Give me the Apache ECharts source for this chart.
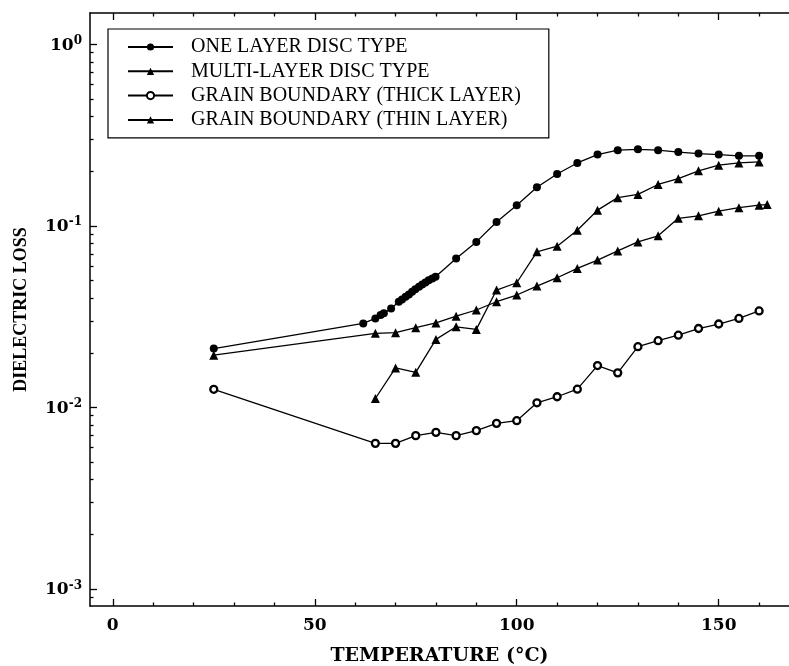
<!DOCTYPE html>
<html><head><meta charset="utf-8">
<script src="https://cdn.jsdelivr.net/npm/echarts@6/dist/echarts.min.js"></script>
<style>html,body{margin:0;padding:0;background:#fff}#c{width:789px;height:666px}</style>
</head><body><div id="c"></div>
<script>
// ---- data ----
const seriesNames = ['ONE LAYER DISC TYPE', 'MULTI-LAYER DISC TYPE', 'GRAIN BOUNDARY (THICK LAYER)', 'GRAIN BOUNDARY (THIN LAYER)'];

const oneLayerT = [25, 62, 65, 66.3, 67.1, 68.9, 70.8, 71.6, 72.5, 73.3, 74.1, 74.9, 75.8, 76.6, 77.4, 78.2, 79.1, 79.9, 85, 90, 95, 100, 105, 110, 115, 120, 125, 130, 135, 140, 145, 150, 155, 160];
const oneLayerV = [0.0211, 0.0290, 0.0309, 0.0323, 0.0330, 0.0351, 0.0382, 0.0393, 0.0407, 0.0419, 0.0433, 0.0447, 0.0462, 0.0476, 0.0488, 0.0501, 0.0513, 0.0524, 0.0661, 0.0816, 0.105, 0.130, 0.163, 0.193, 0.222, 0.247, 0.261, 0.264, 0.261, 0.255, 0.250, 0.247, 0.243, 0.243];

const multiLayerT = [25, 65, 70, 75, 80, 85, 90, 95, 100, 105, 110, 115, 120, 125, 130, 135, 140, 145, 150, 155, 160, 162];
const multiLayerV = [0.0194, 0.0256, 0.0258, 0.0275, 0.0292, 0.0318, 0.0344, 0.0382, 0.0416, 0.0466, 0.0518, 0.0583, 0.0648, 0.0728, 0.0816, 0.0881, 0.110, 0.1135, 0.1205, 0.126, 0.130, 0.131];

const thickT = [25, 65, 70, 75, 80, 85, 90, 95, 100, 105, 110, 115, 120, 125, 130, 135, 140, 145, 150, 155, 160];
const thickV = [0.01258, 0.00634, 0.00634, 0.00699, 0.00729, 0.00699, 0.00745, 0.00817, 0.00845, 0.0106, 0.01145, 0.0126, 0.0170, 0.0155, 0.0216, 0.0233, 0.0250, 0.0272, 0.0288, 0.0309, 0.0340];

const thinT = [65, 70, 75, 80, 85, 90, 95, 100, 105, 110, 115, 120, 125, 130, 135, 140, 145, 150, 155, 160];
const thinV = [0.0112, 0.0165, 0.0156, 0.0237, 0.0278, 0.0269, 0.0443, 0.0486, 0.0719, 0.0773, 0.0946, 0.122, 0.143, 0.149, 0.169, 0.182, 0.201, 0.216, 0.222, 0.225];

const xMajorTicks = [0, 50, 100, 150];
const xMinorTicks = [10, 20, 30, 40, 60, 70, 80, 90, 110, 120, 130, 140, 160];
const yDecadeExponents = [-3, -2, -1, 0];

// ---- axis ranges ----
const X_MIN = -5.64, X_MAX = 167.4;
const Y_MIN = 8.06e-4, Y_MAX = 1.487;
const LY_MIN = Math.log10(Y_MIN), LY_MAX = Math.log10(Y_MAX);
const yMinorTicks = [];
for (let d = -4; d <= 0; d++) for (let k = 2; k <= 9; k++) {
  const v = Math.log10(k) + d;
  if (v > LY_MIN && v < LY_MAX) yMinorTicks.push(v);
}

const pairs = (t, v) => t.map((x, i) => [x, v[i]]);
const BLACK = '#000';
const axisLine = { onZero: false, lineStyle: { color: BLACK, width: 1.5 } };
const tickStyle = { color: BLACK, width: 1.3 };

const chart = echarts.init(document.getElementById('c'), null, { renderer: 'canvas' });

const xAxisBase = { type: 'value', min: X_MIN, max: X_MAX, splitLine: { show: false } };
const yLogBase = { type: 'value', min: LY_MIN, max: LY_MAX, splitLine: { show: false } };

const option = {
  animation: false,
  backgroundColor: '#fff',
  grid: { left: 90, right: 0, top: 13, bottom: 60, containLabel: false, outerBoundsMode: 'none' },
  legend: {
    orient: 'vertical', left: 108, top: 29,
    padding: [8, 28, 8, 19], itemGap: 4.3, itemWidth: 45, itemHeight: 9,
    borderColor: BLACK, borderWidth: 1.2, backgroundColor: '#fff',
    textStyle: { fontFamily: 'Liberation Serif', fontSize: 20, color: BLACK, padding: [0, 0, 0, 13], lineHeight: 20 },
    data: seriesNames
  },
  xAxis: [
    Object.assign({}, xAxisBase, {
      position: 'bottom', axisLine: axisLine,
      axisTick: { inside: true, length: 7, customValues: xMajorTicks, lineStyle: tickStyle },
      axisLabel: { customValues: xMajorTicks, margin: 11, fontFamily: 'DejaVu Serif', fontWeight: 'bold', fontSize: 17, color: BLACK },
      name: 'TEMPERATURE (°C)', nameLocation: 'middle', nameGap: 41,
      nameTextStyle: { fontFamily: 'DejaVu Serif', fontWeight: 'bold', fontSize: 19, color: BLACK }
    }),
    Object.assign({}, xAxisBase, {
      position: 'bottom', axisLine: { show: false, onZero: false },
      axisTick: { inside: true, length: 3.5, customValues: xMinorTicks, lineStyle: tickStyle },
      axisLabel: { show: false }
    }),
    Object.assign({}, xAxisBase, {
      position: 'top', axisLine: axisLine,
      axisTick: { inside: true, length: 7, customValues: xMajorTicks, lineStyle: tickStyle },
      axisLabel: { show: false }
    }),
    Object.assign({}, xAxisBase, {
      position: 'top', axisLine: { show: false, onZero: false },
      axisTick: { inside: true, length: 3.5, customValues: xMinorTicks, lineStyle: tickStyle },
      axisLabel: { show: false }
    })
  ],
  yAxis: [
    {
      type: 'log', logBase: 10, min: Y_MIN, max: Y_MAX, position: 'left',
      axisLine: axisLine, axisTick: { show: false }, axisLabel: { show: false }, splitLine: { show: false },
      name: 'DIELECTRIC LOSS', nameLocation: 'middle', nameGap: 60,
      nameTextStyle: { fontFamily: 'Liberation Serif', fontWeight: 'bold', fontSize: 18, color: BLACK }
    },
    Object.assign({}, yLogBase, {
      position: 'left', axisLine: { show: false, onZero: false },
      axisTick: { inside: true, length: 7, customValues: yDecadeExponents, lineStyle: tickStyle },
      axisLabel: {
        customValues: yDecadeExponents, margin: 8,
        formatter: v => '{b|10}{s|' + v + '}',
        rich: {
          b: { fontFamily: 'DejaVu Serif', fontWeight: 'bold', fontSize: 17, color: BLACK, lineHeight: 19, padding: [6, 0, 0, 0], verticalAlign: 'bottom' },
          s: { fontFamily: 'DejaVu Serif', fontWeight: 'bold', fontSize: 12, color: BLACK, lineHeight: 14, verticalAlign: 'top' }
        }
      }
    }),
    Object.assign({}, yLogBase, {
      position: 'left', axisLine: { show: false, onZero: false },
      axisTick: { inside: true, length: 3.5, customValues: yMinorTicks, lineStyle: tickStyle },
      axisLabel: { show: false }
    })
  ],
  series: [
    {
      name: seriesNames[0], type: 'line', xAxisIndex: 0, yAxisIndex: 0,
      data: pairs(oneLayerT, oneLayerV),
      symbol: 'circle', symbolSize: 8,
      itemStyle: { color: BLACK }, lineStyle: { color: BLACK, width: 1.3 }
    },
    {
      name: seriesNames[1], type: 'line', xAxisIndex: 0, yAxisIndex: 0,
      data: pairs(multiLayerT, multiLayerV),
      symbol: 'triangle', symbolSize: 9,
      itemStyle: { color: BLACK }, lineStyle: { color: BLACK, width: 1.3 }
    },
    {
      name: seriesNames[2], type: 'line', xAxisIndex: 0, yAxisIndex: 0,
      data: pairs(thickT, thickV),
      symbol: 'circle', symbolSize: 7,
      itemStyle: { color: '#fff', borderColor: BLACK, borderWidth: 2.3 }, lineStyle: { color: BLACK, width: 1.3 }
    },
    {
      name: seriesNames[3], type: 'line', xAxisIndex: 0, yAxisIndex: 0,
      data: pairs(thinT, thinV),
      symbol: 'triangle', symbolSize: 9,
      itemStyle: { color: BLACK }, lineStyle: { color: BLACK, width: 1.3 }
    }
  ]
};
chart.setOption(option);
</script>
</body></html>
